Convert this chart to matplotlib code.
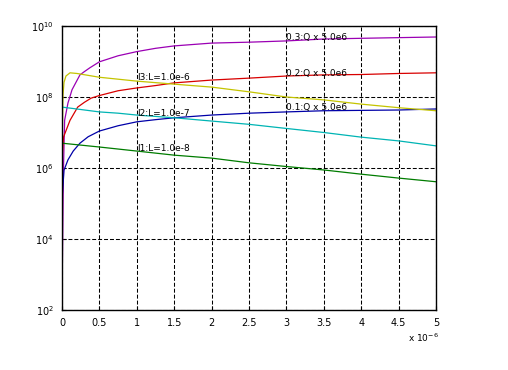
import matplotlib
matplotlib.use('Agg')
import matplotlib.pyplot as plt
from matplotlib.ticker import FixedLocator, NullLocator

# time axis in units of 1e-6
t_q3 = [0, 0.02, 0.035, 0.08, 0.134, 0.24, 0.3, 0.37, 0.5, 0.75, 1.0, 1.25, 1.5, 2.0, 2.5, 3.0,
        3.5, 4.0, 4.5, 5.0]
q3 = [2.3e2, 1.0e6, 2.2e7, 6.8e7, 1.6e8, 4.2e8, 5.2e8, 6.6e8, 9.8e8, 1.45e9, 1.9e9, 2.35e9, 2.75e9,
      3.3e9, 3.5e9, 3.8e9, 4.3e9, 4.5e9, 4.7e9, 4.9e9]

t_q2 = [0, 0.02, 0.107, 0.21, 0.3, 0.39, 0.5, 0.75, 1.0, 1.25, 1.5, 2.0, 2.5, 3.0, 3.5, 4.0, 4.5, 5.0]
q2 = [1.6e6, 7.4e6, 2.2e7, 5.2e7, 7.1e7, 9.3e7, 1.1e8, 1.5e8, 1.8e8, 2.1e8, 2.5e8, 3.0e8, 3.4e8,
      3.9e8, 4.2e8, 4.3e8, 4.6e8, 4.8e8]

t_q1 = [0, 0.027, 0.08, 0.15, 0.24, 0.35, 0.5, 0.75, 1.0, 1.25, 1.5, 2.0, 2.5, 3.0, 3.5, 4.0, 4.5, 5.0]
q1 = [1.3e5, 8.7e5, 1.7e6, 3.0e6, 5.0e6, 7.6e6, 1.1e7, 1.55e7, 2.0e7, 2.3e7, 2.6e7, 3.1e7, 3.5e7,
      3.8e7, 4.1e7, 4.2e7, 4.3e7, 4.6e7]

t_l3 = [0, 0.007, 0.013, 0.027, 0.053, 0.107, 0.2, 0.5, 1.0, 1.5, 2.0, 2.5, 3.0, 3.5, 4.0, 4.5, 5.0]
l3 = [3.0e6, 2.2e7, 1.1e8, 2.6e8, 3.9e8, 4.8e8, 4.6e8, 3.6e8, 2.8e8, 2.3e8, 1.9e8, 1.4e8, 1.0e8,
      8.3e7, 6.3e7, 5.0e7, 4.1e7]

t_l2 = [0, 0.5, 0.75, 1.0, 1.5, 2.0, 2.5, 3.0, 3.5, 4.0, 4.5, 5.0]
l2 = [5.2e7, 3.8e7, 3.5e7, 3.1e7, 2.6e7, 2.1e7, 1.7e7, 1.3e7, 1.0e7, 7.4e6, 5.8e6, 4.2e6]

t_l1 = [0, 0.5, 1.0, 1.5, 2.0, 2.5, 3.0, 3.5, 4.0, 4.5, 5.0]
l1 = [5.0e6, 3.9e6, 3.0e6, 2.3e6, 1.9e6, 1.4e6, 1.1e6, 8.8e5, 6.7e5, 5.2e5, 4.1e5]

x_ticks = [0, 0.5, 1, 1.5, 2, 2.5, 3, 3.5, 4, 4.5, 5]
x_ticklabels = ['0', '0.5', '1', '1.5', '2', '2.5', '3', '3.5', '4', '4.5', '5']
y_ticks = [1e2, 1e4, 1e6, 1e8, 1e10]
y_ticklabels = [r'$10^{2}$', r'$10^{4}$', r'$10^{6}$', r'$10^{8}$', r'$10^{10}$']

# curve labels: (x, y, text)
labels = [
    (1.0, 3.6e8, 'l3:L=1.0e-6'),
    (1.0, 3.5e7, 'l2:L=1.0e-7'),
    (1.0, 3.5e6, 'l1:L=1.0e-8'),
    (3.0, 4.6e9, '0.3:Q x 5.0e6'),
    (3.0, 4.5e8, '0.2:Q x 5.0e6'),
    (3.0, 4.9e7, '0.1:Q x 5.0e6'),
]

fig = plt.figure(figsize=(5.08, 3.70), dpi=100)
ax = fig.add_axes([62 / 508, 60 / 370, 374 / 508, 284 / 370])

lw = 0.9
ax.plot(t_q3, q3, color='#9b00b4', lw=lw)
ax.plot(t_q2, q2, color='#d80000', lw=lw)
ax.plot(t_q1, q1, color='#0000a8', lw=lw)
ax.plot(t_l3, l3, color='#c4c400', lw=lw)
ax.plot(t_l2, l2, color='#00b4b4', lw=lw)
ax.plot(t_l1, l1, color='#007c00', lw=lw)

ax.set_yscale('log')
ax.set_xlim(0, 5)
ax.set_ylim(1e2, 1e10)

ax.xaxis.set_major_locator(FixedLocator(x_ticks))
ax.set_xticklabels(x_ticklabels)
ax.yaxis.set_major_locator(FixedLocator(y_ticks))
ax.yaxis.set_minor_locator(NullLocator())
ax.set_yticklabels(y_ticklabels)

ax.tick_params(direction='in', length=3, width=0.8, labelsize=7, colors='black', pad=6)
ax.set_axisbelow(True)
ax.grid(True, color='black', linestyle=(0, (3.8, 1.9)), linewidth=0.75)
for s in ax.spines.values():
    s.set_linewidth(1.0)
    s.set_color('black')

for x, y, s in labels:
    ax.text(x, y, s, fontsize=6.5, ha='left', va='center', color='black')

fig.text(408 / 508, 1 - 338 / 370, r'x $10^{-6}$', fontsize=6.5, ha='left', va='center')

fig.savefig('out.png', dpi=100, facecolor='white')
